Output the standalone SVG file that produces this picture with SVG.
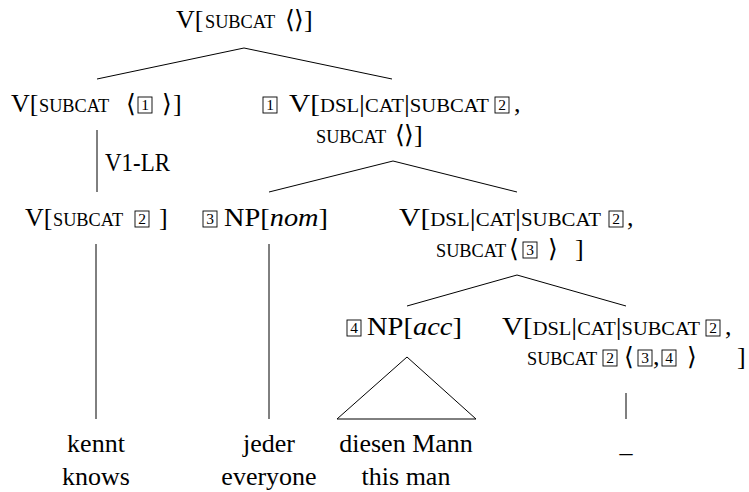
<svg xmlns="http://www.w3.org/2000/svg" width="749" height="492" viewBox="0 0 749 492">
<style>
text{font-family:"Liberation Serif","DejaVu Serif",serif;font-size:26px;fill:#000}
.sc{font-size:18.3px}
.it{font-style:italic}
.mid{text-anchor:middle}
.ab{font-family:"DejaVu Sans","Liberation Sans",sans-serif;font-weight:200;font-size:25px;text-anchor:middle}
.bn{font-size:15.5px;text-anchor:middle}
.bx{fill:none;stroke:#000;stroke-width:0.9}
.ln{fill:none;stroke:#000;stroke-width:1}
</style>
<defs>
<rect id="bx" class="bx" width="14" height="16"/>
</defs>
<rect width="749" height="492" fill="#fff"/>
<g id="connectors" class="ln">
<line x1="244" y1="48" x2="97" y2="79"/>
<line x1="244" y1="48" x2="392" y2="79"/>
<line x1="97" y1="130" x2="97" y2="192"/>
<line x1="393" y1="161" x2="269" y2="192"/>
<line x1="393" y1="161" x2="517" y2="192"/>
<line x1="96" y1="244" x2="96" y2="419"/>
<line x1="269" y1="244" x2="269" y2="419"/>
<line x1="517" y1="275" x2="407" y2="306"/>
<line x1="517" y1="275" x2="626" y2="306"/>
<polygon points="407,357 337,419 476,419"/>
<line x1="626" y1="393" x2="626" y2="419"/>
</g>
<g id="n-root">
<text y="28"><tspan x="176">V[</tspan><tspan x="205" class="sc">SUBCAT</tspan></text>
<text class="ab" x="290" y="28">⟨</text><text class="ab" x="299" y="28">⟩</text>
<text x="304" y="28">]</text>
</g>
<g id="n-v1">
<text y="112"><tspan x="11">V[</tspan><tspan x="39" class="sc">SUBCAT</tspan></text>
<text class="ab" x="130.5" y="112">⟨</text>
<use href="#bx" x="138" y="97"/><text class="bn" x="145" y="110">1</text>
<text class="ab" x="166.5" y="112">⟩</text>
<text x="173" y="112">]</text>
</g>
<g id="n-vp1">
<use href="#bx" x="263" y="97"/><text class="bn" x="270" y="110">1</text>
<text x="289" y="112" textLength="200" lengthAdjust="spacingAndGlyphs">V[<tspan class="sc">DSL</tspan>|<tspan class="sc">CAT</tspan>|<tspan class="sc">SUBCAT</tspan></text>
<use href="#bx" x="495" y="97"/><text class="bn" x="502" y="110">2</text>
<text x="514" y="112">,</text>
<text x="316" y="143" class="sc">SUBCAT</text>
<text class="ab" x="400" y="143">⟨</text><text class="ab" x="409" y="143">⟩</text>
<text x="414" y="143">]</text>
</g>
<g id="lbl-v1lr">
<text x="105" y="171" textLength="65" lengthAdjust="spacingAndGlyphs">V1-LR</text>
</g>
<g id="n-v2">
<text y="226"><tspan x="25">V[</tspan><tspan x="53" class="sc">SUBCAT</tspan></text>
<use href="#bx" x="135" y="211"/><text class="bn" x="142" y="224">2</text>
<text x="159" y="226">]</text>
</g>
<g id="n-np-nom">
<use href="#bx" x="203" y="211"/><text class="bn" x="210" y="224">3</text>
<text x="224" y="226" textLength="104" lengthAdjust="spacingAndGlyphs">NP[<tspan class="it">nom</tspan>]</text>
</g>
<g id="n-vp2">
<text x="399" y="226" textLength="202" lengthAdjust="spacingAndGlyphs">V[<tspan class="sc">DSL</tspan>|<tspan class="sc">CAT</tspan>|<tspan class="sc">SUBCAT</tspan></text>
<use href="#bx" x="609" y="211"/><text class="bn" x="616" y="224">2</text>
<text x="627" y="226">,</text>
<text x="436" y="257" class="sc">SUBCAT</text>
<text class="ab" x="513.5" y="257">⟨</text>
<use href="#bx" x="523" y="242"/><text class="bn" x="530" y="255">3</text>
<text class="ab" x="552.5" y="257">⟩</text>
<text x="575" y="257">]</text>
</g>
<g id="n-np-acc">
<use href="#bx" x="347" y="320"/><text class="bn" x="354" y="333">4</text>
<text x="367" y="335" textLength="95" lengthAdjust="spacingAndGlyphs">NP[<tspan class="it">acc</tspan>]</text>
</g>
<g id="n-vp3">
<text x="502" y="335" textLength="198" lengthAdjust="spacingAndGlyphs">V[<tspan class="sc">DSL</tspan>|<tspan class="sc">CAT</tspan>|<tspan class="sc">SUBCAT</tspan></text>
<use href="#bx" x="706" y="320"/><text class="bn" x="713" y="333">2</text>
<text x="725" y="335">,</text>
<text x="527" y="365" class="sc">SUBCAT</text>
<use href="#bx" x="603" y="350"/><text class="bn" x="610" y="363">2</text>
<text class="ab" x="628.5" y="365">⟨</text>
<use href="#bx" x="638" y="350"/><text class="bn" x="645" y="363">3</text>
<text x="653" y="365">,</text>
<use href="#bx" x="662" y="350"/><text class="bn" x="669" y="363">4</text>
<text class="ab" x="691.5" y="365">⟩</text>
<text x="737" y="365">]</text>
</g>
<g id="leaf-kennt">
<text class="mid" x="96" y="452">kennt</text>
<text class="mid" x="96" y="485">knows</text>
</g>
<g id="leaf-jeder">
<text class="mid" x="269" y="452">jeder</text>
<text class="mid" x="269" y="485">everyone</text>
</g>
<g id="leaf-diesen">
<text class="mid" x="406" y="452">diesen Mann</text>
<text class="mid" x="406" y="485">this man</text>
</g>
<g id="leaf-trace">
<text class="mid" x="626" y="452">_</text>
</g>
</svg>
